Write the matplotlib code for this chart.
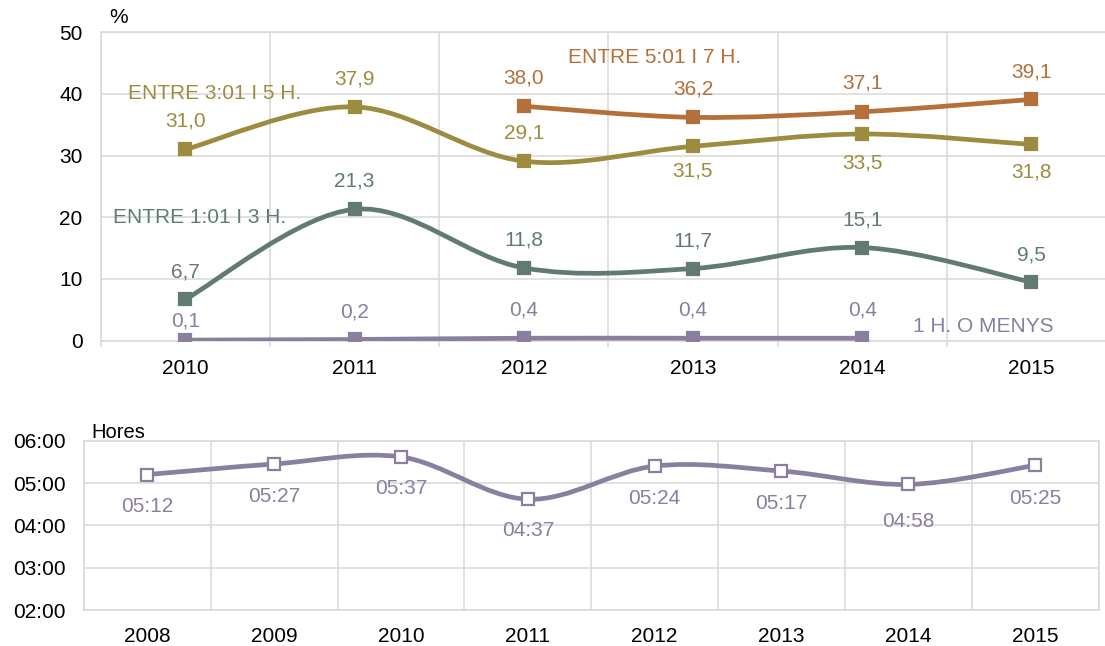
import matplotlib
matplotlib.use("Agg")
import matplotlib.pyplot as plt
from matplotlib.path import Path
from matplotlib.patches import PathPatch
import numpy as np

plt.rcParams["font.family"] = ["Liberation Sans", "DejaVu Sans"]

# Dades gràfic superior (% per franja d'hores)
anys_top = ["2010", "2011", "2012", "2013", "2014", "2015"]
menys_1h = [0.1, 0.2, 0.4, 0.4, 0.4, None]
entre_1_3 = [6.7, 21.3, 11.8, 11.7, 15.1, 9.5]
entre_3_5 = [31.0, 37.9, 29.1, 31.5, 33.5, 31.8]
entre_5_7 = [None, None, 38.0, 36.2, 37.1, 39.1]

# Dades gràfic inferior (hores mitjanes)
anys_bot = ["2008", "2009", "2010", "2011", "2012", "2013", "2014", "2015"]
hores = ["05:12", "05:27", "05:37", "04:37", "05:24", "05:17", "04:58", "05:25"]

# colors
C_PURPLE = "#8B7FA0"
C_TEAL = "#627B71"
C_OLIVE = "#9D8C3F"
C_BROWN = "#B4703A"
C_GRID = "#D9D9D9"


def smooth_path(xs, ys):
    # corba suavitzada tipus Excel (Bezier)
    pts = list(zip(xs, ys))
    verts = [pts[0]]
    codes = [Path.MOVETO]
    for i in range(len(pts) - 1):
        p0 = pts[i - 1] if i > 0 else pts[i]
        p1 = pts[i]
        p2 = pts[i + 1]
        p3 = pts[i + 2] if i + 2 < len(pts) else pts[i + 1]
        c1 = (p1[0] + (p2[0] - p0[0]) / 6, p1[1] + (p2[1] - p0[1]) / 6)
        c2 = (p2[0] - (p3[0] - p1[0]) / 6, p2[1] - (p3[1] - p1[1]) / 6)
        verts += [c1, c2, p2]
        codes += [Path.CURVE4] * 3
    return Path(verts, codes)


def draw_series(ax, values, color, offsets, fmt, face=None, ms=8.4):
    xs = [i for i, v in enumerate(values) if v is not None]
    ys = [v for v in values if v is not None]
    ax.add_patch(PathPatch(smooth_path(xs, ys), facecolor="none", edgecolor=color,
                           lw=3.4, capstyle="round", joinstyle="round", zorder=3))
    ax.plot(xs, ys, linestyle="none", marker="s", ms=ms,
            mfc=face if face else color, mec=color, mew=1.6, zorder=4)
    for x, y, off, lab in zip(xs, ys, offsets, fmt):
        ax.annotate(lab, (x, y), xytext=(0, off), textcoords="offset pixels",
                    ha="center", va="center", color=color, fontsize=15)


def to_min(s):
    h, m = s.split(":")
    return int(h) * 60 + int(m)


def coma(v):
    return f"{v:.1f}".replace(".", ",")


fig = plt.figure(figsize=(11.05, 6.46), dpi=100)
W, H = 1105, 646

# ---------- gràfic superior ----------
left, right, top, bot = 100.7, 1116, 32.2, 340.7
ax = fig.add_axes([left / W, (H - bot) / H, (right - left) / W, (bot - top) / H])
ax.set_xlim(-0.5, 5.5)
ax.set_ylim(0, 50)
ax.set_yticks(range(0, 51, 10))
ax.set_xticks(np.arange(-0.5, 6, 1))
ax.set_xticklabels([])
ax.set_xticks(range(len(anys_top)), minor=True)
ax.set_xticklabels(anys_top, minor=True)
ax.tick_params(axis="x", which="major", length=4.3, color=C_GRID, width=1.1)
ax.tick_params(axis="x", which="minor", length=0, pad=13, labelsize=15)
ax.tick_params(axis="y", length=0, pad=13, labelsize=15)
ax.grid(True, which="major", color=C_GRID, lw=1.1)
for s in ax.spines.values():
    s.set_color(C_GRID)
    s.set_linewidth(1.1)
ax.set_axisbelow(True)

draw_series(ax, menys_1h, C_PURPLE, [19, 27, 28, 28, 28], [coma(v) for v in menys_1h if v is not None])
draw_series(ax, entre_1_3, C_TEAL, [27, 28, 28, 28, 28, 27], [coma(v) for v in entre_1_3])
draw_series(ax, entre_3_5, C_OLIVE, [28, 28, 28, -25, -29, -28], [coma(v) for v in entre_3_5])
draw_series(ax, entre_5_7, C_BROWN, [28, 28, 29, 27], [coma(v) for v in entre_5_7 if v is not None])

ax.text(-0.5 + (214.5 - left) / 169.2, 50 - (93.3 - top) / 6.17, "ENTRE 3:01 I 5 H.",
        color=C_OLIVE, fontsize=15, ha="center", va="center")
ax.text(-0.5 + (200 - left) / 169.2, 50 - (217.3 - top) / 6.17, "ENTRE 1:01 I 3 H.",
        color=C_TEAL, fontsize=15, ha="center", va="center")
ax.text(-0.5 + (654.5 - left) / 169.2, 50 - (57.3 - top) / 6.17, "ENTRE 5:01 I 7 H.",
        color=C_BROWN, fontsize=15, ha="center", va="center")
ax.text(-0.5 + (983 - left) / 169.2, 50 - (326.7 - top) / 6.17, "1 H. O MENYS",
        color=C_PURPLE, fontsize=15, ha="center", va="center")
fig.text(119 / W, 1 - 17.5 / H, "%", fontsize=15, ha="center", va="center")

# ---------- gràfic inferior ----------
left2, right2, top2, bot2 = 84, 1098.5, 440.7, 610
ax2 = fig.add_axes([left2 / W, (H - bot2) / H, (right2 - left2) / W, (bot2 - top2) / H])
mins = [to_min(h) for h in hores]
ax2.set_xlim(-0.5, len(anys_bot) - 0.5)
ax2.set_ylim(120, 360)
ax2.set_yticks(range(120, 361, 60))
ax2.set_yticklabels([f"{m // 60:02d}:00" for m in range(120, 361, 60)])
ax2.set_xticks(np.arange(-0.5, len(anys_bot), 1))
ax2.set_xticklabels([])
ax2.set_xticks(range(len(anys_bot)), minor=True)
ax2.set_xticklabels(anys_bot, minor=True)
ax2.tick_params(axis="x", which="both", length=0)
ax2.tick_params(axis="x", which="minor", pad=12, labelsize=15)
ax2.tick_params(axis="y", length=0, pad=13, labelsize=15)
ax2.grid(True, which="major", color=C_GRID, lw=1.1)
for s in ax2.spines.values():
    s.set_color(C_GRID)
    s.set_linewidth(1.1)
ax2.set_axisbelow(True)

draw_series(ax2, mins, C_PURPLE, [-32, -33, -32, -31, -32, -32, -37, -33], hores,
            face="white", ms=9)
fig.text(91.7 / W, 1 - 432.3 / H, "Hores", fontsize=14.5, ha="left", va="center")

fig.savefig("out.png", dpi=100)
